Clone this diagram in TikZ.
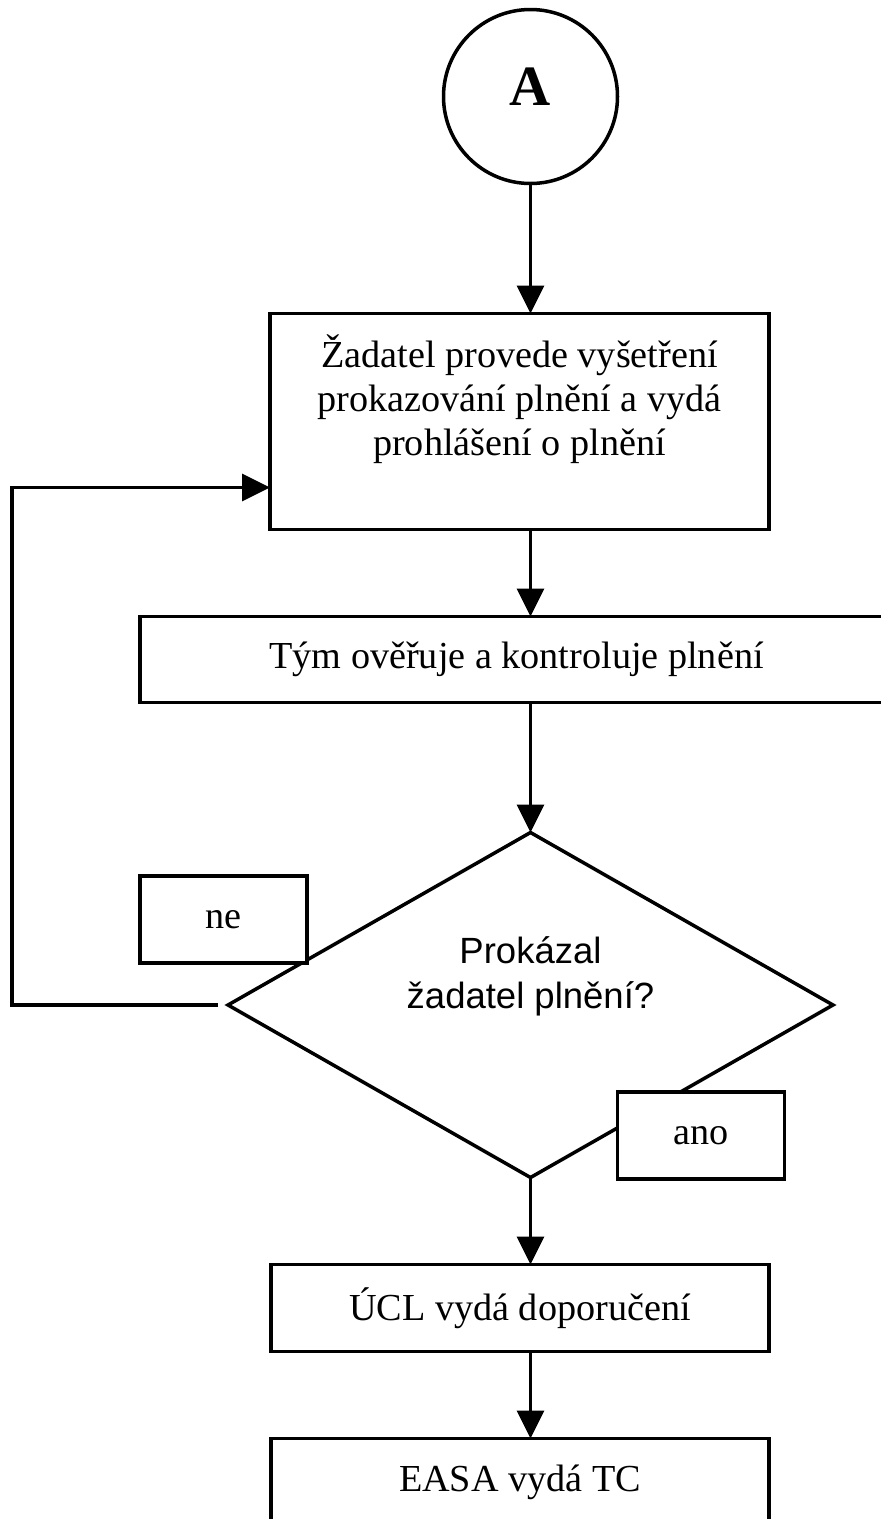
\documentclass[tikz,border=0pt]{standalone}
\usepackage{fontspec}
\setmainfont{Liberation Serif}
\setsansfont{Liberation Sans}
\usetikzlibrary{arrows.meta,positioning,shapes.geometric}

\begin{document}
\begin{tikzpicture}[>={Triangle[length=28pt,width=27pt]}, line width=3.5pt,
  box/.style={draw, fill=white, align=center, inner sep=0pt, outer sep=0pt, minimum height=87pt,
    font=\fontsize{38.2}{44}\selectfont},
  tag/.style={box, minimum width=167pt},
  node distance=87pt]
  \useasboundingbox (0,0) rectangle (881pt,-1519pt);
  \node[draw, circle, minimum size=174pt, outer sep=0pt, text depth=19pt, font=\fontsize{57}{57}\selectfont\bfseries] (A) at (530.5pt,-96.5pt) {A};
  \node[box, below=130pt of A, xshift=-11pt, minimum width=499pt, minimum height=216pt, text height=121pt, text depth=53pt] (prove) {Žadatel provede vyšetření\\prokazování plnění a vydá\\prohlášení o plnění};
  \node[box, below=of prove, xshift=-3pt, minimum width=753pt, minimum height=86pt] (check) {Tým ověřuje a kontroluje plnění};
  \node[draw, diamond, below=130pt of check, xshift=14pt, minimum width=605pt, minimum height=345pt, inner sep=0pt, outer sep=0pt] (ask) {};
  \node[font=\sffamily\fontsize{36.5}{45}\selectfont, align=center] (asktext) at ([yshift=29pt]ask.center) {Prokázal\\žadatel plnění?};
  \node[tag, above=42pt of ask.west, xshift=-4.5pt] (no) {ne};
  \node[tag, right=87pt of ask.south, yshift=42pt] (yes) {ano};
  \node[box, below=of ask, xshift=-10.5pt, minimum width=498pt] (ucl) {ÚCL vydá doporučení};
  \node[box, below=of ucl, minimum width=498pt] (easa) {EASA vydá TC};
  \draw[->] (A) -- (A |- prove.north);
  \draw[->] (prove.south -| A) -- (check.north -| A);
  \draw[->] (check.south -| ask) -- (ask);
  \draw[->] (ask) -- (ask |- ucl.north);
  \draw[->] (ucl.south -| ask) -- (ask |- easa.north);
  \draw[->, shorten <=10pt] (ask.west) -- ++(-216pt,0) |- ([yshift=-66pt]prove.west);
\end{tikzpicture}
\end{document}
